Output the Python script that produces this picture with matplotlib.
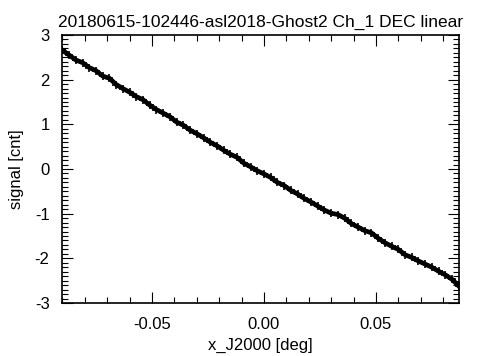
import matplotlib
matplotlib.use("Agg")
import matplotlib.pyplot as plt
from matplotlib.ticker import MultipleLocator

x_deg = [-0.090, -0.087, -0.084, -0.081, -0.078, -0.075, -0.072, -0.069, -0.066, -0.063,
         -0.060, -0.057, -0.054, -0.051, -0.048, -0.045, -0.042, -0.039, -0.036, -0.033,
         -0.030, -0.027, -0.024, -0.021, -0.018, -0.015, -0.012, -0.009, -0.006, -0.003,
         0.000, 0.003, 0.006, 0.009, 0.012, 0.015, 0.018, 0.021, 0.024, 0.027,
         0.030, 0.033, 0.036, 0.039, 0.042, 0.045, 0.048, 0.051, 0.054, 0.057,
         0.060, 0.063, 0.066, 0.069, 0.072, 0.075, 0.078, 0.081, 0.084, 0.087]
signal = [2.66, 2.55, 2.44, 2.38, 2.27, 2.20, 2.08, 2.03, 1.89, 1.80,
          1.72, 1.62, 1.55, 1.43, 1.33, 1.25, 1.17, 1.05, 0.98, 0.87,
          0.79, 0.70, 0.60, 0.52, 0.42, 0.33, 0.26, 0.13, 0.05, -0.04,
          -0.11, -0.19, -0.30, -0.37, -0.48, -0.56, -0.66, -0.74, -0.83, -0.92,
          -0.99, -1.02, -1.10, -1.22, -1.30, -1.38, -1.43, -1.55, -1.65, -1.73,
          -1.80, -1.92, -1.98, -2.06, -2.13, -2.20, -2.29, -2.37, -2.47, -2.62]

title = "20180615-102446-asl2018-Ghost2 Ch_1 DEC linear"
xlabel = "x_J2000 [deg]"
ylabel = "signal [cnt]"

plt.rcParams['font.family'] = ['Liberation Sans', 'DejaVu Sans']
plt.rcParams['axes.unicode_minus'] = False
fig = plt.figure(figsize=(4.86, 3.56), dpi=100)
ax = fig.add_axes([0.1276, 0.1489, 0.8168, 0.7528])
ax.plot(x_deg, signal, color='black', lw=3.4, solid_joinstyle='round')
ax.plot(x_deg, signal, color='black', lw=0, marker='+', ms=6, mew=1.2)
ax.set_xlim(-0.0902, 0.0871)
ax.set_ylim(-3, 3)
ax.xaxis.set_major_locator(MultipleLocator(0.05))
ax.xaxis.set_minor_locator(MultipleLocator(0.01))
ax.yaxis.set_major_locator(MultipleLocator(1))
ax.yaxis.set_minor_locator(MultipleLocator(0.1))
ax.xaxis.set_major_formatter(matplotlib.ticker.FormatStrFormatter('%.2f'))
ax.tick_params(which='both', direction='in', top=True, right=True, labelsize=12, width=0.8)
ax.tick_params(which='major', length=8)
ax.tick_params(which='minor', length=4)
ax.tick_params(axis='x', which='major', pad=10)
ax.tick_params(axis='y', which='major', pad=9)
for s in ax.spines.values():
    s.set_linewidth(1.2)
ax.set_title(title, fontsize=12.5, pad=6)
ax.set_xlabel(xlabel, fontsize=12, labelpad=4)
ax.set_ylabel(ylabel, fontsize=12, labelpad=8)
fig.savefig("out.png", dpi=100)
